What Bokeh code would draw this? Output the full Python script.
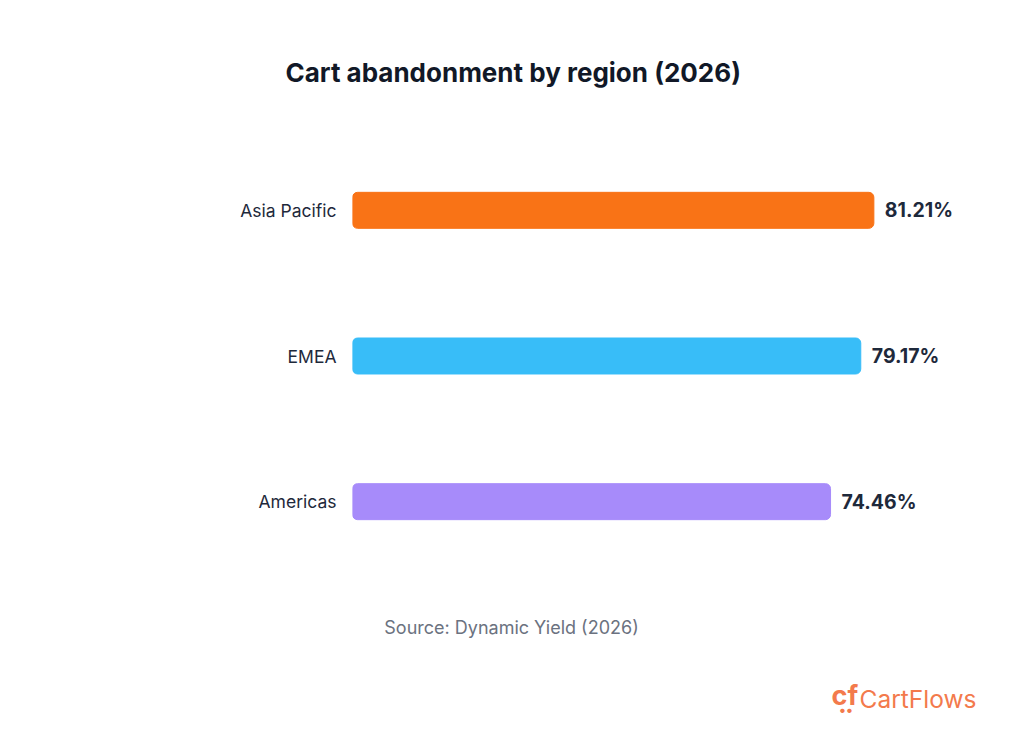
from bokeh.plotting import figure
from bokeh.layouts import column
from bokeh.models import Range1d, Label, ColumnDataSource, FixedTicker
from bokeh.core.properties import value
from bokeh.embed import file_html
from bokeh.resources import INLINE

regions = ["Americas", "EMEA", "Asia Pacific"]
values = [74.46, 79.17, 81.21]
colors = ["#A78BFA", "#38BDF8", "#F97316"]
labels = [f"{v:.2f}%" for v in values]
positions = [0, 1, 2]

title_text = "Cart abandonment by region (2026)"
source_text = "Source: Dynamic Yield (2026)"
brand_text = "CartFlows"

W = 1024
TOP_H, MAIN_H, BOT_H = 137, 437, 163
LEFT, RIGHT = 352, 30
BRAND = "#F37A4C"


def strip(h, top_border=0):
    f = figure(width=W, height=h, output_backend="svg", toolbar_location=None,
               x_range=Range1d(LEFT, W - RIGHT), y_range=Range1d(h - top_border, 0),
               x_axis_location=None, y_axis_location=None,
               min_border_left=LEFT, min_border_right=RIGHT,
               min_border_top=top_border, min_border_bottom=0)
    f.outline_line_color = None
    f.xgrid.visible = False
    f.ygrid.visible = False
    f.background_fill_color = "white"
    f.border_fill_color = "white"
    return f


# title strip
top = strip(TOP_H, top_border=92)
top.title.text = title_text
top.title.align = "left"
top.title.offset = 285 - LEFT
top.title.text_font = "Inter"
top.title.text_font_size = "26px"
top.title.text_font_style = "bold"
top.title.text_color = "#111827"

# main chart
p = figure(width=W, height=MAIN_H, output_backend="svg", toolbar_location=None,
           x_range=Range1d(0, 100), y_range=Range1d(-0.5, 2.5),
           min_border_left=LEFT, min_border_right=RIGHT,
           min_border_top=0, min_border_bottom=0)
p.background_fill_color = "white"
p.border_fill_color = "white"
p.outline_line_color = None
p.xgrid.visible = False
p.ygrid.visible = False
p.xaxis.visible = False

src = ColumnDataSource(dict(y=positions, right=values, color=colors, label=labels))
p.hbar(y="y", left=0, right="right", height=0.247, color="color", source=src,
       border_radius=5)
p.text(x="right", y="y", text="label", source=src, x_offset=11,
       text_baseline="middle", text_align="left",
       text_font=value("Inter"), text_font_size="19.5px", text_font_style="bold",
       text_color="#1E293B")

ax = p.yaxis[0]
ax.ticker = FixedTicker(ticks=positions)
ax.major_label_overrides = {i: r for i, r in zip(positions, regions)}
ax.axis_line_color = None
ax.major_tick_line_color = None
ax.minor_tick_line_color = None
ax.major_label_standoff = 10
ax.major_label_text_font = "Inter"
ax.major_label_text_font_size = "17.5px"
ax.major_label_text_color = "#1E293B"

# footer strip (x in page pixels, y measured from top of strip)
bot = strip(BOT_H)
y0 = TOP_H + MAIN_H
bot.add_layout(Label(x=511, y=627 - y0, text=source_text,
                     text_align="center", text_baseline="middle",
                     text_font="Inter", text_font_size="18px",
                     text_color="#6B7280"))
bot.add_layout(Label(x=976, y=698 - y0, text=brand_text,
                     text_align="right", text_baseline="middle",
                     text_font="Inter", text_font_size="24.5px",
                     text_color=BRAND))
bot.add_layout(Label(x=831, y=695 - y0, text="cf",
                     text_align="left", text_baseline="middle",
                     text_font="Inter", text_font_size="27px", text_font_style="bold",
                     text_color=BRAND))
for wx in (842, 849):
    bot.add_layout(Label(x=wx, y=709 - y0, text="\u2022",
                         text_align="center", text_baseline="middle",
                         text_font="Inter", text_font_size="14px",
                         text_color=BRAND))

layout = column(top, p, bot, spacing=0)
open("out.html", "w").write(file_html(layout, INLINE))
